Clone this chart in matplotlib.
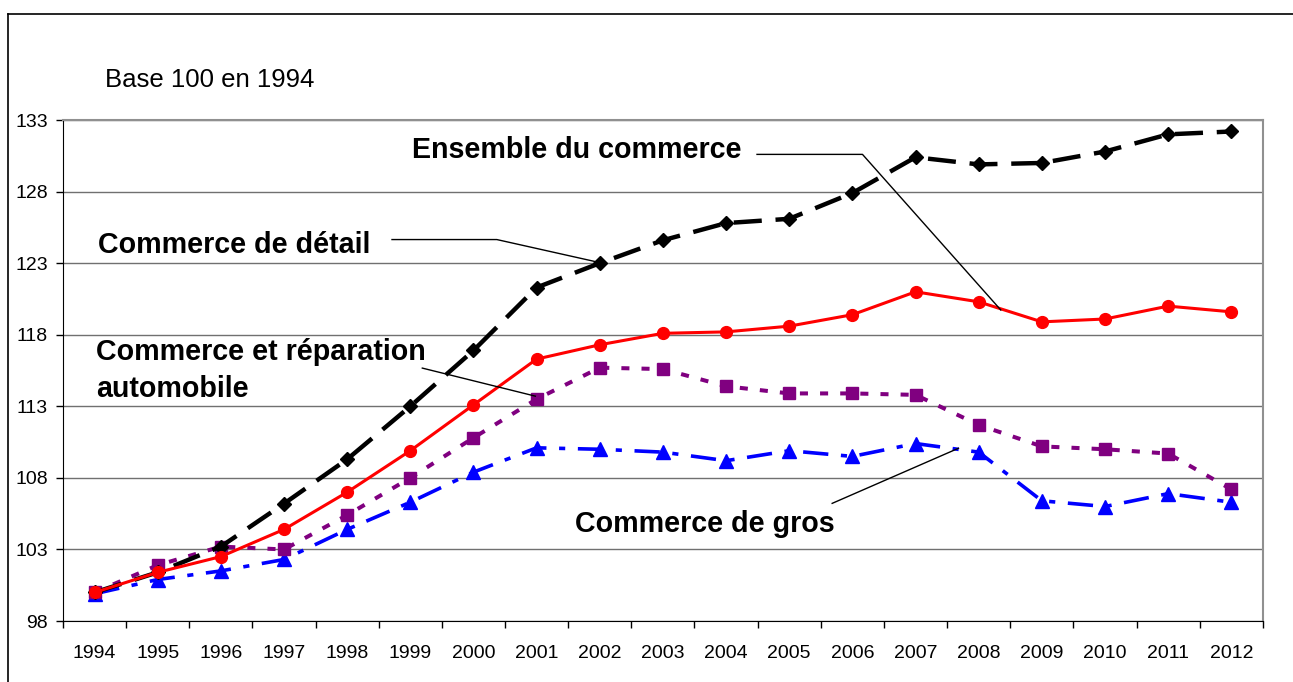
import matplotlib
matplotlib.use("Agg")
import matplotlib.pyplot as plt
from matplotlib.lines import Line2D

plt.rcParams["font.family"] = ["Liberation Sans", "DejaVu Sans"]

# data
years = [str(y) for y in range(1994, 2013)]
ensemble = [100.0, 101.4, 102.5, 104.4, 107.0, 109.9, 113.1, 116.3, 117.3, 118.1,
            118.2, 118.6, 119.4, 121.0, 120.3, 118.9, 119.1, 120.0, 119.6]
detail = [100.0, 101.4, 103.2, 106.2, 109.3, 113.0, 116.9, 121.3, 123.0, 124.6,
          125.8, 126.1, 127.9, 130.4, 129.9, 130.0, 130.8, 132.0, 132.2]
auto = [100.0, 101.9, 103.2, 103.0, 105.4, 108.0, 110.8, 113.5, 115.7, 115.6,
        114.4, 113.9, 113.9, 113.8, 111.7, 110.2, 110.0, 109.7, 107.2]
gros = [99.9, 100.9, 101.5, 102.3, 104.4, 106.3, 108.4, 110.1, 110.0, 109.8,
        109.2, 109.9, 109.5, 110.4, 109.8, 106.4, 106.0, 106.9, 106.3]
yticks = [98, 103, 108, 113, 118, 123, 128, 133]

fig = plt.figure(figsize=(12.93, 6.82), dpi=100)
ax = fig.add_axes([0.0487, 0.0894, 0.928, 0.7346])
x = list(range(len(years)))

ax.plot(x, gros, color="#0000ff", lw=2.6, ls=(0, (7, 3.5, 1.7, 3.5)),
        marker="^", ms=9.5, zorder=3)
ax.plot(x, auto, color="#800080", lw=2.9, ls=(0, (2, 3)),
        marker="s", ms=8.5, zorder=4)
ax.plot(x, detail, color="black", lw=3.2, ls=(0, (6.3, 3.1)),
        marker="D", ms=7.5, zorder=5)
ax.plot(x, ensemble, color="#ff0000", lw=2.2, ls="-",
        marker="o", ms=8.5, zorder=6)

ax.set_xlim(-0.5, len(years) - 0.5)
ax.set_ylim(98, 133)
ax.set_yticks(yticks)
ax.set_xticks([i - 0.5 for i in range(len(years) + 1)])
ax.set_xticklabels([])
ax.set_xticks(x, minor=True)
ax.set_xticklabels(years, minor=True, fontsize=14)
ax.tick_params(axis="x", which="major", length=5, width=1, direction="out")
ax.tick_params(axis="x", which="minor", length=0, pad=17)
ax.tick_params(axis="y", length=5, width=1, direction="out", labelsize=14, pad=6)
ax.yaxis.grid(True, color="#707070", lw=1)
ax.set_axisbelow(True)
ax.spines["top"].set_color("#909090")
ax.spines["right"].set_color("#909090")
ax.spines["top"].set_linewidth(1.5)
ax.spines["right"].set_linewidth(1.5)

# labels with leader lines
lab = dict(fontsize=20.6, fontweight="bold", va="center", ha="left")
ax.text(5.02, 130.9, "Ensemble du commerce", **lab)
ax.plot([10.49, 12.16, 14.35], [130.6, 130.6, 119.73], color="black", lw=1, zorder=7)
ax.text(0.06, 124.3, "Commerce de détail", **lab)
ax.plot([4.71, 6.37, 7.95], [124.65, 124.65, 123.09], color="black", lw=1, zorder=7)
ax.text(0.02, 115.5, "Commerce et réparation\nautomobile", linespacing=1.45, **lab)
ax.plot([5.19, 6.98], [115.67, 113.71], color="black", lw=1, zorder=7)
ax.text(7.6, 104.75, "Commerce de gros", **lab)
ax.plot([11.68, 13.68], [106.22, 110.07], color="black", lw=1, zorder=7)

fig.text(0.081, 0.883, "Base 100 en 1994", fontsize=18.5, va="center", ha="left")

# outer frame
fig.add_artist(Line2D([8 / 1293, 8 / 1293], [0, 1 - 14 / 682], color="black", lw=1.2))
fig.add_artist(Line2D([8 / 1293, 1], [1 - 14 / 682, 1 - 14 / 682], color="black", lw=1.2))

fig.savefig("out.png", dpi=100)
